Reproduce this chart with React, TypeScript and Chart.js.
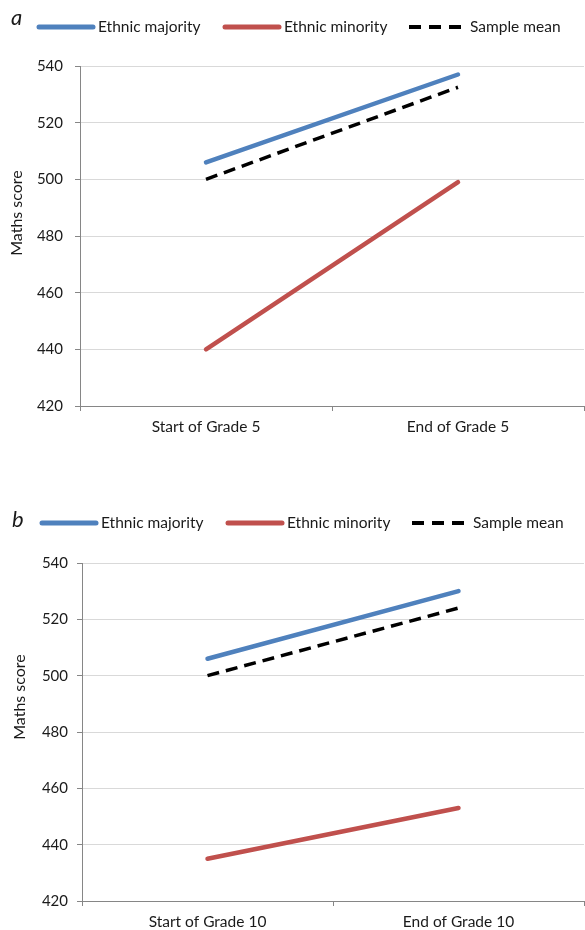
import React, { useEffect, useRef } from 'react';
import { Chart, registerables } from 'chart.js';

Chart.register(...registerables);

// Category labels for each panel
const gradeFiveLabels = ['Start of Grade 5', 'End of Grade 5'];
const gradeTenLabels = ['Start of Grade 10', 'End of Grade 10'];

// Series names (shared by both panels)
const seriesNames = ['Ethnic majority', 'Ethnic minority', 'Sample mean'];

// Panel a: Grade 5 maths scores
const gradeFiveMajority = [506, 537];
const gradeFiveMinority = [440, 499];
const gradeFiveMean = [500, 532.5];

// Panel b: Grade 10 maths scores
const gradeTenMajority = [506, 530];
const gradeTenMinority = [435, 453];
const gradeTenMean = [500, 524];

// Value axis
const scoreMin = 420;
const scoreMax = 540;
const scoreStep = 20;
const yAxisTitle = 'Maths score';

const FONT = 'Lato, "Open Sans", sans-serif';
const BLUE = '#4F81BD';
const RED = '#C0504D';
const BLACK = '#000000';
const AXIS = '#868686';
const GRID = '#D9D9D9';
const TEXT = '#1a1a1a';

// Draws the panel letter, the line legend and the rotated y-axis title.
const panelDecor = {
  id: 'panelDecor',
  afterDraw(chart: any, _args: any, opts: any) {
    const ctx: CanvasRenderingContext2D = chart.ctx;
    ctx.save();

    ctx.fillStyle = TEXT;
    ctx.textAlign = 'left';
    ctx.textBaseline = 'alphabetic';
    ctx.font = `italic 22px ${FONT}`;
    ctx.fillText(opts.letter, opts.letterX, opts.letterY);

    ctx.font = `15.5px ${FONT}`;
    ctx.textBaseline = 'middle';
    chart.data.datasets.forEach((ds: any, i: number) => {
      const x0 = opts.legendX + i * opts.legendSlot;
      const y = opts.legendY;
      const dashed = Array.isArray(ds.borderDash) && ds.borderDash.length > 0;
      ctx.save();
      ctx.strokeStyle = ds.borderColor;
      ctx.lineWidth = dashed ? 4 : 5;
      ctx.lineCap = dashed ? 'butt' : 'round';
      ctx.setLineDash(dashed ? [12, 8] : []);
      ctx.beginPath();
      ctx.moveTo(x0 + (dashed ? 0 : 2), y);
      ctx.lineTo(x0 + opts.sampleWidth - (dashed ? 3 : 2), y);
      ctx.stroke();
      ctx.restore();
      ctx.fillStyle = TEXT;
      ctx.fillText(ds.label, x0 + opts.sampleWidth + 3, y);
    });

    ctx.save();
    ctx.translate(opts.titleX, opts.titleY);
    ctx.rotate(-Math.PI / 2);
    ctx.textAlign = 'center';
    ctx.textBaseline = 'middle';
    ctx.font = `16px ${FONT}`;
    ctx.fillStyle = TEXT;
    ctx.fillText(yAxisTitle, 0, 0);
    ctx.restore();

    ctx.restore();
  },
};

type PanelProps = {
  top: number;
  height: number;
  labels: string[];
  majority: number[];
  minority: number[];
  mean: number[];
  plotTop: number;
  yAxisWidth: number;
  xAxisHeight: number;
  yTickPadding: number;
  decor: Record<string, any>;
};

function Panel(props: PanelProps) {
  const ref = useRef<HTMLCanvasElement>(null);

  useEffect(() => {
    const canvas = ref.current;
    if (!canvas) return;
    const chart = new Chart(canvas, {
      type: 'line',
      data: {
        labels: props.labels,
        datasets: [
          {
            label: seriesNames[0],
            data: props.majority,
            borderColor: BLUE,
            backgroundColor: BLUE,
            borderWidth: 4.5,
            borderCapStyle: 'round',
            pointRadius: 0,
            tension: 0,
            fill: false,
          },
          {
            label: seriesNames[1],
            data: props.minority,
            borderColor: RED,
            backgroundColor: RED,
            borderWidth: 4.5,
            borderCapStyle: 'round',
            pointRadius: 0,
            tension: 0,
            fill: false,
          },
          {
            label: seriesNames[2],
            data: props.mean,
            borderColor: BLACK,
            backgroundColor: BLACK,
            borderWidth: 3.5,
            borderDash: [12, 7],
            borderCapStyle: 'butt',
            pointRadius: 0,
            tension: 0,
            fill: false,
          },
        ],
      },
      options: {
        responsive: false,
        animation: false,
        devicePixelRatio: 1,
        layout: { padding: { top: props.plotTop, left: 0, right: 1, bottom: 0 } },
        plugins: {
          legend: { display: false },
          tooltip: { enabled: false },
          panelDecor: props.decor,
        } as any,
        scales: {
          x: {
            offset: true,
            grid: {
              offset: true,
              drawOnChartArea: false,
              color: AXIS,
              tickColor: AXIS,
              tickLength: 5,
            },
            border: { color: AXIS, width: 1 },
            ticks: {
              color: TEXT,
              font: { family: FONT, size: 15.5 },
              padding: 7,
              maxRotation: 0,
            },
            afterFit: (s: any) => {
              s.height = props.xAxisHeight;
            },
          },
          y: {
            min: scoreMin,
            max: scoreMax,
            ticks: {
              stepSize: scoreStep,
              color: TEXT,
              font: { family: FONT, size: 15 },
              padding: props.yTickPadding,
            },
            grid: { color: GRID, tickColor: AXIS, tickLength: 5 },
            border: { color: AXIS, width: 1 },
            afterFit: (s: any) => {
              s.width = props.yAxisWidth;
            },
          },
        },
      },
      plugins: [panelDecor],
    });
    return () => chart.destroy();
  }, []);

  return (
    <canvas
      ref={ref}
      width={585}
      height={props.height}
      style={{ position: 'absolute', left: 0, top: props.top, width: 585, height: props.height }}
    />
  );
}

export default function App() {
  return (
    <div style={{ position: 'absolute', left: 0, top: 0, width: 585, height: 930, background: '#fff', overflow: 'hidden' }}>
      <Panel
        top={0}
        height={450}
        labels={gradeFiveLabels}
        majority={gradeFiveMajority}
        minority={gradeFiveMinority}
        mean={gradeFiveMean}
        plotTop={66}
        yAxisWidth={80}
        xAxisHeight={44}
        yTickPadding={12}
        decor={{
          letter: 'a',
          letterX: 11,
          letterY: 25,
          legendX: 37,
          legendY: 27,
          legendSlot: 186,
          sampleWidth: 58,
          titleX: 17,
          titleY: 213,
        }}
      />
      <Panel
        top={490}
        height={440}
        labels={gradeTenLabels}
        majority={gradeTenMajority}
        minority={gradeTenMinority}
        mean={gradeTenMean}
        plotTop={73}
        yAxisWidth={82}
        xAxisHeight={29}
        yTickPadding={9}
        decor={{
          letter: 'b',
          letterX: 12,
          letterY: 37,
          legendX: 40,
          legendY: 33,
          legendSlot: 186,
          sampleWidth: 58,
          titleX: 20,
          titleY: 207,
        }}
      />
    </div>
  );
}
